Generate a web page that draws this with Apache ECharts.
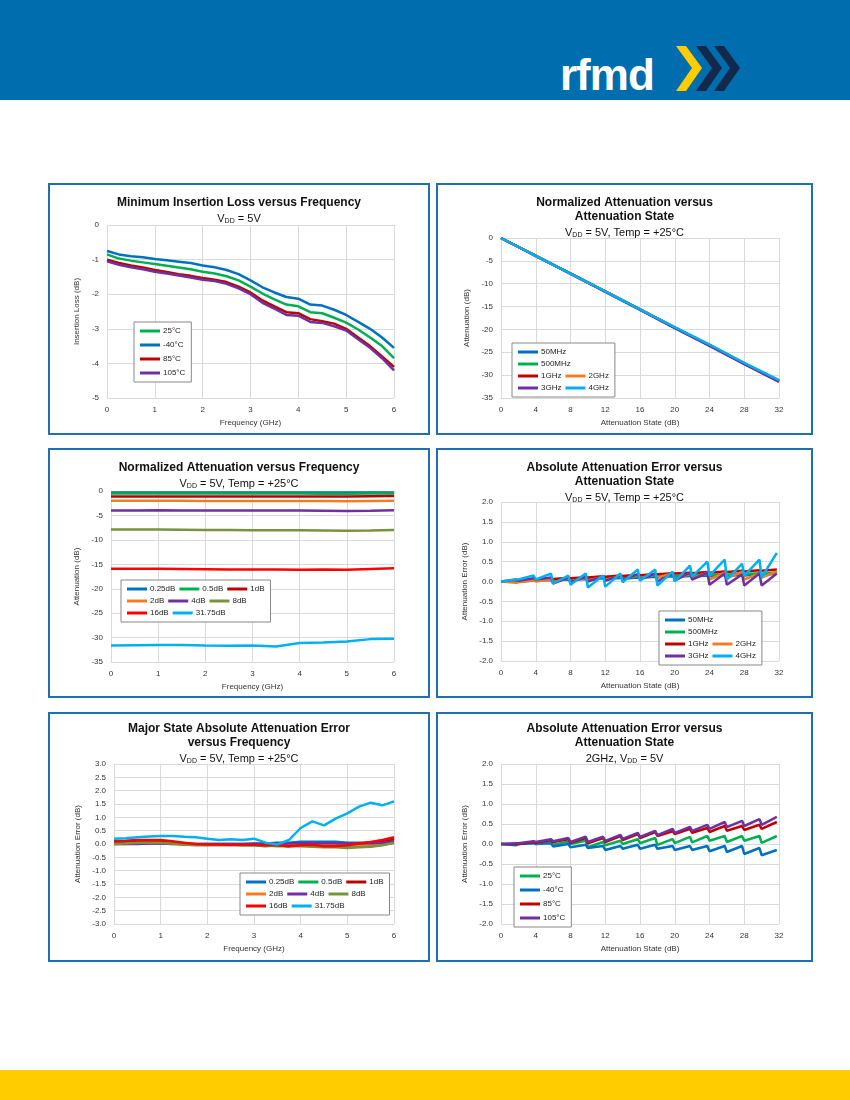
<!DOCTYPE html>
<html><head><meta charset="utf-8">
<script src="https://cdn.jsdelivr.net/npm/echarts@6/dist/echarts.min.js"></script>
<style>
body{margin:0;width:850px;height:1100px;position:relative;background:#fff;font-family:"Liberation Sans",Arial,sans-serif;overflow:hidden}
#hdr{position:absolute;left:0;top:0;width:850px;height:100px;background:#006eae}
#logo{position:absolute;left:560px;top:50px;color:#fff;font:bold 44px "Liberation Sans",Arial;letter-spacing:-1px}
#ftr{position:absolute;left:0;top:1070px;width:850px;height:30px;background:#ffcc00}
.pn{position:absolute;border:2px solid #1f6fb5;box-sizing:border-box}
.pn div.c{width:100%;height:100%}
</style></head><body>
<div id="hdr"><div id="logo">rfmd</div>
<svg style="position:absolute;left:676px;top:46px" width="80" height="50">
<polygon points="0,0 10,0 26,22 10,45 0,45 16,22" fill="#ffcc00"/>
<polygon points="20,0 30,0 46,22 30,45 20,45 36,22" fill="#13294b"/>
<polygon points="38,0 48,0 64,22 48,45 38,45 54,22" fill="#13294b"/>
</svg></div>
<div id="ftr"></div>
<div class="pn" style="left:48px;top:183px;width:382px;height:252px"><div class="c" id="c1"></div></div>
<div class="pn" style="left:436px;top:183px;width:377px;height:252px"><div class="c" id="c2"></div></div>
<div class="pn" style="left:48px;top:448px;width:382px;height:250px"><div class="c" id="c3"></div></div>
<div class="pn" style="left:436px;top:448px;width:377px;height:250px"><div class="c" id="c4"></div></div>
<div class="pn" style="left:48px;top:712px;width:382px;height:250px"><div class="c" id="c5"></div></div>
<div class="pn" style="left:436px;top:712px;width:377px;height:250px"><div class="c" id="c6"></div></div>
<script>
// ---- data ----
var freqIL = [0,0.25,0.5,0.75,1,1.25,1.5,1.75,2,2.25,2.5,2.75,3,3.25,3.5,3.75,4,4.25,4.5,4.75,5,5.25,5.5,5.75,6];
var il25  = [-0.85,-0.97,-1.03,-1.08,-1.13,-1.18,-1.23,-1.28,-1.35,-1.4,-1.48,-1.6,-1.78,-1.98,-2.15,-2.3,-2.35,-2.52,-2.55,-2.68,-2.82,-3.02,-3.25,-3.5,-3.85];
var ilM40 = [-0.75,-0.85,-0.9,-0.93,-0.98,-1.02,-1.06,-1.1,-1.17,-1.22,-1.3,-1.42,-1.6,-1.8,-1.95,-2.08,-2.13,-2.3,-2.33,-2.45,-2.6,-2.8,-3.0,-3.25,-3.55];
var il85  = [-1.0,-1.1,-1.17,-1.23,-1.3,-1.36,-1.42,-1.47,-1.53,-1.58,-1.65,-1.78,-1.95,-2.18,-2.35,-2.52,-2.55,-2.72,-2.78,-2.85,-3.0,-3.25,-3.5,-3.8,-4.1];
var il105 = [-1.05,-1.15,-1.22,-1.28,-1.35,-1.4,-1.46,-1.52,-1.58,-1.62,-1.7,-1.83,-2.0,-2.25,-2.42,-2.6,-2.62,-2.8,-2.83,-2.93,-3.05,-3.3,-3.55,-3.85,-4.2];

var stateN = [0,4,8,12,16,20,24,28,32];
var na50M  = [0,-3.9,-7.8,-11.7,-15.6,-19.6,-23.5,-27.5,-31.3];
var na500M = [0,-3.9,-7.8,-11.7,-15.6,-19.6,-23.5,-27.5,-31.3];
var na1G   = [0,-3.9,-7.8,-11.7,-15.6,-19.6,-23.4,-27.4,-31.2];
var na2G   = [0,-3.9,-7.8,-11.7,-15.6,-19.6,-23.4,-27.5,-31.3];
var na3G   = [0,-3.9,-7.8,-11.8,-15.7,-19.7,-23.6,-27.6,-31.5];
var na4G   = [0,-3.9,-7.8,-11.7,-15.6,-19.5,-23.3,-27.3,-31.1];

var freqS = [0,0.5,1,1.5,2,2.5,3,3.5,4,4.5,5,5.5,6];
var nf025 = [-0.3,-0.3,-0.3,-0.3,-0.3,-0.3,-0.3,-0.3,-0.3,-0.3,-0.3,-0.3,-0.3];
var nf05  = [-0.5,-0.5,-0.5,-0.5,-0.5,-0.5,-0.5,-0.5,-0.5,-0.55,-0.55,-0.5,-0.5];
var nf1   = [-1.1,-1.1,-1.1,-1.1,-1.1,-1.1,-1.1,-1.1,-1.1,-1.1,-1.1,-1.05,-1.0];
var nf2   = [-2.0,-2.0,-2.0,-2.0,-2.05,-2.05,-2.05,-2.05,-2.05,-2.05,-2.1,-2.05,-2.0];
var nf4   = [-4.0,-4.0,-3.95,-4.0,-4.0,-4.0,-4.0,-4.0,-4.0,-4.05,-4.1,-4.05,-3.95];
var nf8   = [-7.9,-7.9,-7.9,-7.95,-8.0,-8.0,-8.05,-8.05,-8.05,-8.1,-8.15,-8.1,-8.0];
var nf16  = [-15.9,-15.9,-15.9,-15.95,-16.0,-16.05,-16.05,-16.05,-16.1,-16.05,-16.1,-15.95,-15.8];
var nf3175 = [-31.6,-31.55,-31.5,-31.5,-31.6,-31.65,-31.6,-31.8,-31.1,-31.0,-30.8,-30.3,-30.2];

var stateE = [0,1.75,2,3.75,4,5.75,6,7.75,8,9.75,10,11.75,12,13.75,14,15.75,16,17.75,18,19.75,20,21.75,22,23.75,24,25.75,26,27.75,28,29.75,30,31.75];
var ae50M  = [0,0,0,0.02,0.02,0.04,0.03,0.05,0.04,0.06,0.05,0.08,0.06,0.09,0.07,0.1,0.09,0.12,0.1,0.13,0.11,0.14,0.12,0.15,0.13,0.16,0.14,0.17,0.15,0.18,0.16,0.2];
var ae500M = [0,0.01,0.01,0.04,0.04,0.06,0.05,0.08,0.06,0.09,0.08,0.11,0.09,0.12,0.1,0.13,0.12,0.15,0.13,0.16,0.14,0.17,0.15,0.18,0.16,0.19,0.17,0.2,0.18,0.21,0.19,0.23];
var ae1G   = [0,0.02,0.02,0.05,0.04,0.07,0.06,0.09,0.08,0.11,0.1,0.13,0.12,0.15,0.14,0.17,0.16,0.19,0.18,0.21,0.2,0.22,0.21,0.24,0.22,0.25,0.24,0.27,0.25,0.28,0.27,0.3];
var ae2G   = [0,-0.03,-0.02,0.03,0,0.05,-0.02,0.08,0,0.1,0.02,0.12,0.04,0.14,0.06,0.16,0.08,0.18,0.1,0.2,0.05,0.2,0.08,0.22,0.05,0.22,0.08,0.24,0.05,0.2,0.1,0.25];
var ae3G   = [0,0.05,0.02,0.08,0.05,0.1,-0.05,0.1,-0.02,0.12,0,0.12,0.02,0.15,0.05,0.18,0.05,0.2,0,0.2,0.02,0.22,0.05,0.22,-0.08,0.2,-0.08,0.18,-0.1,0.2,-0.1,0.2];
var ae4G   = [0,0.05,0.05,0.15,0.05,0.2,-0.05,0.15,-0.08,0.2,-0.15,0.15,-0.13,0.2,-0.02,0.3,0.02,0.3,-0.1,0.25,0,0.4,0.12,0.5,0.15,0.55,0.05,0.45,0.15,0.55,0.1,0.72];

var freqM = [0,0.25,0.5,0.75,1,1.25,1.5,1.75,2,2.25,2.5,2.75,3,3.25,3.5,3.75,4,4.25,4.5,4.75,5,5.25,5.5,5.75,6];
var me3175 = [0.2,0.22,0.25,0.28,0.3,0.3,0.27,0.25,0.2,0.15,0.18,0.15,0.2,0.05,-0.02,0.15,0.6,0.85,0.7,0.95,1.15,1.4,1.55,1.45,1.6];
var me025 = [0.05,0.05,0.05,0.04,0.02,0,0,0,0,0,0,0,0.02,0.02,0.05,0.05,0.08,0.08,0.08,0.08,0.05,0.05,0.05,0.08,0.1];
var me05  = [0.05,0.06,0.08,0.08,0.06,0.02,-0.02,-0.03,-0.03,-0.02,-0.02,-0.05,-0.05,-0.08,-0.05,-0.05,-0.02,-0.05,-0.05,-0.08,-0.1,-0.1,-0.08,-0.03,0.05];
var me1   = [0.08,0.1,0.12,0.14,0.12,0.06,0,-0.02,-0.02,-0.02,-0.02,-0.03,-0.03,-0.05,-0.05,-0.08,0,0.02,0,-0.05,-0.03,0,0.05,0.1,0.2];
var me2   = [0,0,0.02,0.02,0.03,0,-0.02,-0.03,-0.03,-0.03,-0.03,-0.03,-0.03,-0.05,-0.05,-0.05,-0.03,-0.03,-0.03,-0.05,-0.05,-0.05,-0.03,0,0.05];
var me4   = [0,0,0,0.02,0.02,0.02,0,0,0,0,0,0,0,0,0.02,0.02,0.03,0.03,0.03,0.03,0.02,0.02,0.03,0.05,0.08];
var me8   = [0,0.02,0.05,0.05,0.05,0.02,-0.02,-0.05,-0.05,-0.05,-0.05,-0.05,-0.05,-0.06,-0.08,-0.08,-0.08,-0.1,-0.12,-0.12,-0.15,-0.12,-0.1,-0.05,0.05];
var me16  = [0.1,0.12,0.15,0.15,0.15,0.1,0.05,0,-0.02,-0.02,-0.03,-0.03,-0.03,-0.05,-0.05,-0.08,-0.05,-0.03,-0.08,-0.08,-0.05,0.02,0.08,0.15,0.25];

var te25  = [0,-0.02,0,0.03,0.02,0.06,-0.02,0.06,0,0.08,-0.08,0.05,-0.03,0.08,0,0.12,0.02,0.15,-0.02,0.12,0.02,0.18,0.04,0.2,0.08,0.2,0.05,0.2,0.08,0.2,0.03,0.2];
var teM40 = [0,-0.03,0,0.02,0,0.02,-0.06,0,-0.08,-0.02,-0.1,-0.05,-0.15,-0.05,-0.12,-0.02,-0.12,-0.02,-0.12,-0.05,-0.15,-0.05,-0.15,-0.05,-0.18,-0.05,-0.2,-0.05,-0.25,-0.1,-0.28,-0.15];
var te85  = [0,0,0,0.05,0.03,0.1,0.05,0.12,0.03,0.15,0.02,0.15,0.05,0.2,0.1,0.25,0.15,0.3,0.2,0.32,0.25,0.38,0.28,0.4,0.3,0.45,0.33,0.45,0.35,0.48,0.38,0.55];
var te105 = [0,0.02,0.02,0.07,0.05,0.12,0.07,0.15,0.05,0.18,0.05,0.18,0.08,0.23,0.13,0.28,0.18,0.33,0.22,0.38,0.28,0.43,0.33,0.48,0.38,0.55,0.42,0.58,0.45,0.62,0.48,0.68];

var C = {blue:'#0070c0', green:'#00b050', dred:'#c00000', orange:'#f47c20', purple:'#7030a0', olive:'#77933c', red:'#ff0000', cyan:'#00b0f0'};

// ---- helpers ----
function xy(xs, ys){ return xs.map(function(x,i){ return [x, ys[i]]; }); }
function ser(name, xs, ys, color){
  return {name:name, type:'line', data:xy(xs,ys), symbol:'none', lineStyle:{width:2.5,color:color}, itemStyle:{color:color}};
}
function axis(min,max,step,name,fmt,gap){
  return {type:'value', min:min, max:max, interval:step, name:name, nameLocation:'middle', nameGap:gap,
    nameTextStyle:{fontSize:8,color:'#333',fontFamily:'Liberation Sans'},
    axisLine:{show:false}, axisTick:{show:false},
    axisLabel:{fontSize:8,color:'#333',fontFamily:'Liberation Sans',formatter:fmt},
    splitLine:{lineStyle:{color:'#d9d9d9'}}};
}
function ttl(main, sub, top){
  return {text:main, subtext:sub, left:'center', top:top, itemGap:2,
    textStyle:{fontSize:12,fontWeight:'bold',color:'#111',fontFamily:'Liberation Sans',lineHeight:14},
    subtextStyle:{fontSize:11,color:'#111',fontFamily:'Liberation Sans',
      rich:{s:{fontSize:7,verticalAlign:'bottom',padding:[6,0,0,0],color:'#111'}}}};
}
function leg(names, l, t, w, tw, orient){
  return {data:names, left:l, top:t, width:w, orient:orient||'horizontal', icon:'rect', itemWidth:20, itemHeight:3,
    itemGap:orient==='vertical'?6:4, borderColor:'#888', borderWidth:1, padding:[5,6,5,6], backgroundColor:'#fff',
    textStyle:{fontSize:8,color:'#222',fontFamily:'Liberation Sans',width:tw,padding:[0,0,0,-2]}};
}
function make(id, o){
  var ch = echarts.init(document.getElementById(id));
  ch.setOption(o);
}
var one = function(v){ return v.toFixed(1); };

make('c1', {
  title: ttl('Minimum Insertion Loss versus Frequency', 'V{s|DD} = 5V', 6),
  grid:{left:57,right:34,top:40,bottom:35},
  xAxis: axis(0,6,1,'Frequency (GHz)',null,14),
  yAxis: axis(-5,0,1,'Insertion Loss (dB)',null,16),
  legend: leg(['25°C','-40°C','85°C','105°C'],84,137,40,22,'vertical'),
  series:[ser('25°C',freqIL,il25,C.green),ser('-40°C',freqIL,ilM40,C.blue),ser('85°C',freqIL,il85,C.dred),ser('105°C',freqIL,il105,C.purple)]
});
make('c2', {
  title: ttl('Normalized Attenuation versus\nAttenuation State', 'V{s|DD} = 5V, Temp = +25°C', 6),
  grid:{left:63,right:32,top:53,bottom:35},
  xAxis: axis(0,32,4,'Attenuation State (dB)',null,14),
  yAxis: axis(-35,0,5,'Attenuation (dB)',null,20),
  legend: leg(['50MHz','500MHz','1GHz','2GHz','3GHz','4GHz'],74,158,100,28),
  series:[ser('50MHz',stateN,na50M,C.blue),ser('500MHz',stateN,na500M,C.green),ser('1GHz',stateN,na1G,C.dred),
          ser('2GHz',stateN,na2G,C.orange),ser('3GHz',stateN,na3G,C.purple),ser('4GHz',stateN,na4G,C.cyan)]
});
make('c3', {
  title: ttl('Normalized Attenuation versus Frequency', 'V{s|DD} = 5V, Temp = +25°C', 6),
  grid:{left:61,right:34,top:41,bottom:33},
  xAxis: axis(0,6,1,'Frequency (GHz)',null,14),
  yAxis: axis(-35,0,5,'Attenuation (dB)',null,20),
  legend: leg(['0.25dB','0.5dB','1dB','2dB','4dB','8dB','16dB','31.75dB'],71,130,140,24),
  series:[ser('0.25dB',freqS,nf025,C.blue),ser('0.5dB',freqS,nf05,C.green),ser('1dB',freqS,nf1,C.dred),ser('2dB',freqS,nf2,C.orange),
          ser('4dB',freqS,nf4,C.purple),ser('8dB',freqS,nf8,C.olive),ser('16dB',freqS,nf16,C.red),ser('31.75dB',freqS,nf3175,C.cyan)]
});
make('c4', {
  title: ttl('Absolute Attenuation Error versus\nAttenuation State', 'V{s|DD} = 5V, Temp = +25°C', 6),
  grid:{left:63,right:32,top:52,bottom:35},
  xAxis: axis(0,32,4,'Attenuation State (dB)',null,14),
  yAxis: axis(-2,2,0.5,'Attenuation Error (dB)',one,22),
  legend: leg(['50MHz','500MHz','1GHz','2GHz','3GHz','4GHz'],221,161,95,28),
  series:[ser('50MHz',stateE,ae50M,C.blue),ser('500MHz',stateE,ae500M,C.green),ser('1GHz',stateE,ae1G,C.dred),
          ser('2GHz',stateE,ae2G,C.orange),ser('3GHz',stateE,ae3G,C.purple),ser('4GHz',stateE,ae4G,C.cyan)]
});
make('c5', {
  title: ttl('Major State Absolute Attenuation Error\nversus Frequency', 'V{s|DD} = 5V, Temp = +25°C', 3),
  grid:{left:64,right:34,top:50,bottom:36},
  xAxis: axis(0,6,1,'Frequency (GHz)',null,14),
  yAxis: axis(-3,3,0.5,'Attenuation Error (dB)',one,22),
  legend: leg(['0.25dB','0.5dB','1dB','2dB','4dB','8dB','16dB','31.75dB'],190,159,140,24),
  series:[ser('0.25dB',freqM,me025,C.blue),ser('0.5dB',freqM,me05,C.green),ser('1dB',freqM,me1,C.dred),ser('2dB',freqM,me2,C.orange),
          ser('4dB',freqM,me4,C.purple),ser('8dB',freqM,me8,C.olive),ser('16dB',freqM,me16,C.red),ser('31.75dB',freqM,me3175,C.cyan)]
});
make('c6', {
  title: ttl('Absolute Attenuation Error versus\nAttenuation State', '2GHz, V{s|DD} = 5V', 3),
  grid:{left:63,right:32,top:50,bottom:36},
  xAxis: axis(0,32,4,'Attenuation State (dB)',null,14),
  yAxis: axis(-2,2,0.5,'Attenuation Error (dB)',one,22),
  legend: leg(['25°C','-40°C','85°C','105°C'],76,153,40,22,'vertical'),
  series:[ser('25°C',stateE,te25,C.green),ser('-40°C',stateE,teM40,C.blue),ser('85°C',stateE,te85,C.dred),ser('105°C',stateE,te105,C.purple)]
});
</script>
</body></html>
